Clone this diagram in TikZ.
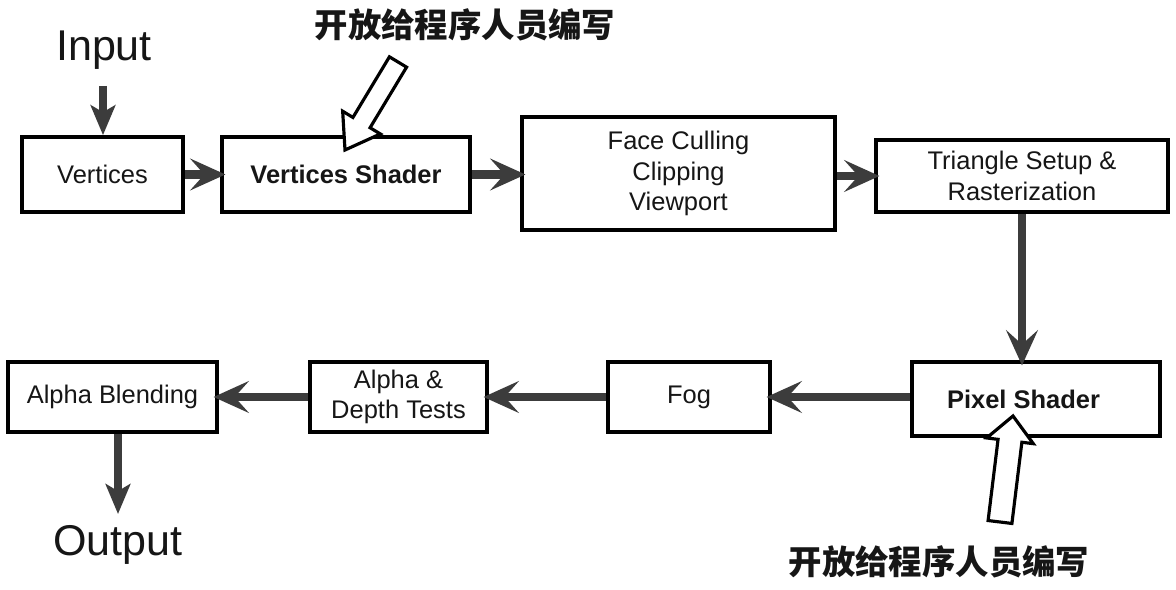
\documentclass[tikz,border=0pt]{standalone}
\usepackage{fontspec}
\setmainfont{Liberation Sans}
\newfontfamily\cjk{Noto Sans CJK SC}
\usetikzlibrary{arrows.meta,calc}
\definecolor{arr}{HTML}{3C3C3C}
\definecolor{ink}{HTML}{161616}
\begin{document}
\begin{tikzpicture}[x=0.02cm,y=-0.02cm,
  box/.style={draw=black,line width=2.1pt,fill=white,inner sep=0pt,align=center,text=ink,font=\fontsize{14.5}{17.5}\selectfont},
  flow/.style={draw=arr,line width=5pt,shorten >=-3pt,-{Stealth[length=20pt,width=18pt,inset=8pt]}},
  vflow/.style={draw=arr,line width=5pt,-{Stealth[length=17pt,width=14pt,inset=4pt]}},
  hollow/.style={draw=black,line width=1.8pt,fill=white,line join=miter},
  big/.style={font=\fontsize{24.5}{28}\selectfont,text=ink,inner sep=0pt},
  cn/.style={font=\cjk\bfseries\fontsize{19}{22}\selectfont,text=ink,inner sep=0pt}]
\useasboundingbox[fill=white] (0,0) rectangle (1176,590);

% boxes
\node[box,minimum width=3.22cm,minimum height=1.5cm] (V) at (102.5,174.5) {Vertices};
\node[box,minimum width=4.96cm,minimum height=1.5cm,font=\bfseries\fontsize{14.5}{17.5}\selectfont] (VS) at (346,174.5) {Vertices Shader};
\node[box,minimum width=6.26cm,minimum height=2.26cm] (FC) at (678.5,173.5) {Face Culling\\Clipping\\Viewport};
\node[box,minimum width=5.84cm,minimum height=1.44cm] (TS) at (1022,176) {Triangle Setup \&\\Rasterization};
\node[box,minimum width=4.96cm,minimum height=1.48cm,font=\bfseries\fontsize{14.5}{17.5}\selectfont] (PS) at (1036,399) {\hspace*{-0.5cm}Pixel Shader};
\node[box,minimum width=3.24cm,minimum height=1.4cm] (Fog) at (689,397) {Fog};
\node[box,minimum width=3.54cm,minimum height=1.4cm] (AD) at (398.5,397) {Alpha \&\\Depth Tests};
\node[box,minimum width=4.18cm,minimum height=1.4cm] (AB) at (112.5,397) {Alpha Blending};

% labels
\node[big] (in) at (104,50) {Input};
\node[big] (out) at (118,545) {Output};
\node[cn] (cn1) at (465,25) {开放给程序人员编写};
\node[cn] (cn2) at (939,562) {开放给程序人员编写};

% flow arrows
\coordinate (inA) at (103,86);
\coordinate (outB) at (118,514);
\draw[vflow] (inA) -- (inA |- V.north);
\draw[flow] (V.east) -- (VS.west);
\draw[flow] (VS.east) -- (VS.east -| FC.west);
\draw[flow] (FC.east |- TS.west) -- (TS.west);
\draw[flow] (TS.south) -- (TS.south |- PS.north);
\draw[flow] (PS.west |- Fog.east) -- (Fog.east);
\draw[flow] (Fog.west) -- (AD.east);
\draw[flow] (AD.west) -- (AB.east);
\draw[vflow] (outB |- AB.south) -- (outB);

% hollow arrows
\coordinate (h1t) at (345,150);
\coordinate (h1c) at (398,62);
\coordinate (h1b) at ($(h1t)!0.64cm!(h1c)$);
\draw[hollow] ($(h1c)!0.2cm!90:(h1t)$) -- ($(h1b)!0.2cm!90:(h1t)$) -- ($(h1b)!0.44cm!90:(h1t)$) -- (h1t)
  -- ($(h1b)!0.44cm!-90:(h1t)$) -- ($(h1b)!0.2cm!-90:(h1t)$) -- ($(h1c)!0.2cm!-90:(h1t)$) -- cycle;

\coordinate (h2t) at (1013,416);
\coordinate (h2c) at (1000,522);
\coordinate (h2b) at ($(h2t)!0.5cm!(h2c)$);
\draw[hollow] ($(h2c)!0.24cm!90:(h2t)$) -- ($(h2b)!0.24cm!90:(h2t)$) -- ($(h2b)!0.47cm!90:(h2t)$) -- (h2t)
  -- ($(h2b)!0.47cm!-90:(h2t)$) -- ($(h2b)!0.24cm!-90:(h2t)$) -- ($(h2c)!0.24cm!-90:(h2t)$) -- cycle;
\end{tikzpicture}
\end{document}
